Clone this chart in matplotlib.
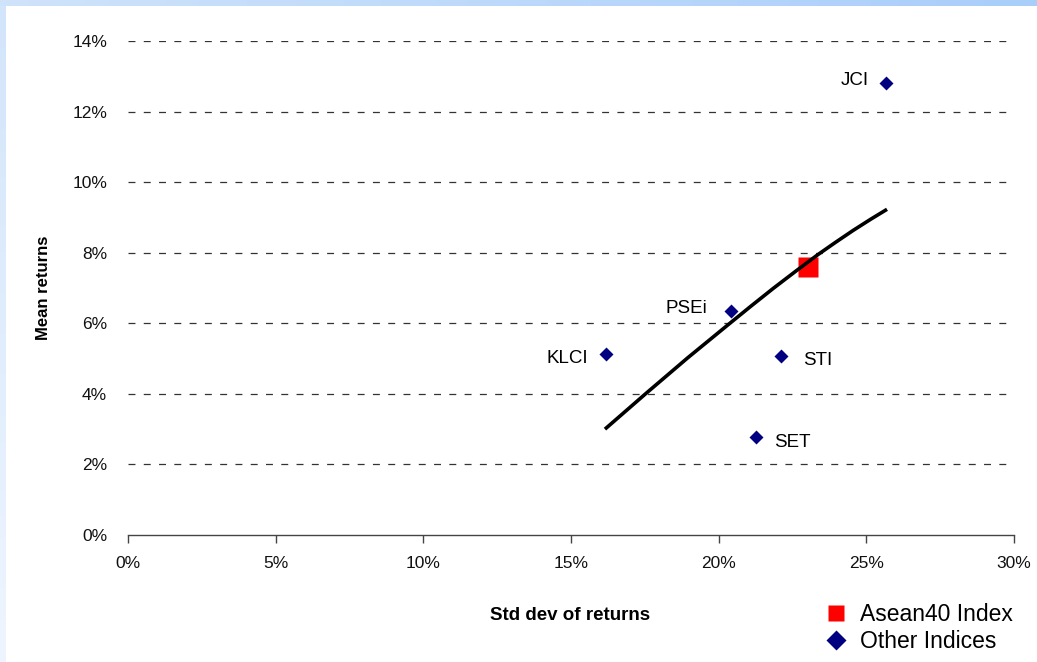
import numpy as np
import matplotlib
matplotlib.use('Agg')
import matplotlib.pyplot as plt
from matplotlib import font_manager
from matplotlib.lines import Line2D
from matplotlib.colors import LinearSegmentedColormap

# data (in %)
names = ['JCI', 'PSEi', 'KLCI', 'STI', 'SET']
std_dev = [25.66, 20.42, 16.19, 22.11, 21.27]
mean_ret = [12.80, 6.35, 5.13, 5.07, 2.78]
asean_std = [23.03]
asean_mean = [7.59]
# frontier curve
curve_std = [16.15, 16.85, 17.55, 18.25, 18.95, 19.65, 20.35, 21.1, 21.85, 22.6,
             23.35, 23.95, 24.55, 25.15, 25.7]
curve_mean = [3.00, 3.51, 4.02, 4.52, 5.02, 5.50, 5.98, 6.49, 6.99, 7.47,
              7.94, 8.29, 8.63, 8.95, 9.23]

# label placement (pixel offsets from marker)
label_dx = [-17, -24, -18, 22, 18]
label_dy = [3, 2, -5, -4, -6]

x_ticks = [0, 5, 10, 15, 20, 25, 30]
y_ticks = [0, 2, 4, 6, 8, 10, 12, 14]

names_avail = {f.name for f in font_manager.fontManager.ttflist}
narrow = 'Liberation Sans Narrow' if 'Liberation Sans Narrow' in names_avail else 'Liberation Sans'
plt.rcParams['font.family'] = ['Liberation Sans', 'DejaVu Sans']
plt.rcParams['lines.scale_dashes'] = False

fig = plt.figure(figsize=(10.37, 6.62), dpi=100)

# blue border strips
top = fig.add_axes([0, 1 - 6 / 662, 1, 6 / 662])
cm = LinearSegmentedColormap.from_list('b', ['#cfe3fb', '#a9cefa'])
top.imshow(np.linspace(0, 1, 256)[None, :], cmap=cm, aspect='auto')
top.axis('off')
left = fig.add_axes([0, 0, 6 / 1037, 1 - 6 / 662])
cm2 = LinearSegmentedColormap.from_list('b2', ['#eef5fe', '#d3e5fb'])
left.imshow(np.linspace(0, 1, 256)[:, None], cmap=cm2, aspect='auto', origin='lower')
left.axis('off')

ax = fig.add_axes([128 / 1037, 1 - 535 / 662, 886 / 1037, 494 / 662])
ax.set_xlim(0, 30)
ax.set_ylim(0, 14)

for v in y_ticks[1:]:
    ax.axhline(v, color='#333333', lw=0.9, linestyle=(0, (5, 6)), zorder=1)

ax.plot(curve_std, curve_mean, color='black', lw=2.6, zorder=3,
        solid_capstyle='butt', solid_joinstyle='round')
ax.plot(asean_std, asean_mean, 's', color='#ff0000', ms=14.5, mec='none', zorder=2)
ax.plot(std_dev, mean_ret, 'D', color='#000080', ms=6.8, mec='none', ls='none', zorder=4)

for n, xs, ys, dx, dy in zip(names, std_dev, mean_ret, label_dx, label_dy):
    ax.annotate(n, (xs, ys), xytext=(dx, dy), textcoords='offset pixels',
                ha='right' if dx < 0 else 'left', va='center', fontsize=13.5)

for s in ['top', 'right', 'left']:
    ax.spines[s].set_visible(False)
ax.spines['bottom'].set_color('#444444')
ax.spines['bottom'].set_linewidth(1.0)

ax.set_xticks(x_ticks)
ax.set_xticklabels([f'{t}%' for t in x_ticks])
ax.set_yticks(y_ticks)
ax.set_yticklabels([f'{t}%' for t in y_ticks])
ax.tick_params(axis='x', direction='out', length=6, width=1, color='#444444',
               pad=9, labelsize=12.5, labelcolor='#111111')
ax.tick_params(axis='y', length=0, pad=15, labelsize=12.5, labelcolor='#111111')

fig.text(570 / 1037, 1 - 615 / 662, 'Std dev of returns', ha='center', va='center',
         fontsize=13.5, fontweight='bold', family=narrow)
fig.text(44 / 1037, 1 - 288 / 662, 'Mean returns', ha='center', va='center',
         rotation=90, fontsize=12, fontweight='bold', family=narrow)

handles = [Line2D([], [], marker='s', color='#ff0000', ms=11.5, ls='none', mec='none'),
           Line2D([], [], marker='D', color='#000080', ms=10, ls='none', mec='none')]
fig.legend(handles, ['Asean40 Index', 'Other Indices'], loc='upper left',
           bbox_to_anchor=(807 / 1037, 1 - 592 / 662), frameon=False, fontsize=16.5,
           handletextpad=0.3, labelspacing=0.15, handlelength=1.5, borderpad=0)

fig.savefig('out.png', dpi=100)
